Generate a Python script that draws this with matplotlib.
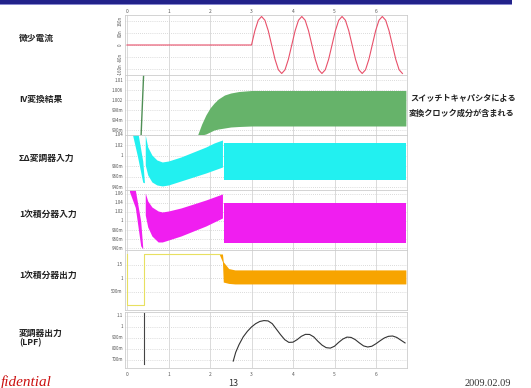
import matplotlib as mpl
mpl.use('agg')
import matplotlib.pyplot as plt
from matplotlib.patches import Rectangle

plt.rcParams['font.family'] = ['Noto Sans CJK JP', 'DejaVu Sans']

# row names (left column)
row_names = ['微少電流', 'IV変換結果', 'ΣΔ変調器入力', '1次積分器入力', '1次積分器出力', '変調器出力\n(LPF)']
note_lines = ['スイッチトキャパシタによる', '変換クロック成分が含まれる']
x_ticks = [0, 1, 2, 3, 4, 5, 6]

# panel 1: small current (nA), red
cur_t = [0.0, 3.000, 3.081, 3.162, 3.243, 3.323, 3.404, 3.485, 3.566, 3.647, 3.728, 3.808, 3.889,
         3.970, 4.051, 4.132, 4.212, 4.293, 4.374, 4.455, 4.536, 4.617, 4.697, 4.778, 4.859,
         4.940, 5.021, 5.102, 5.182, 5.263, 5.344, 5.425, 5.506, 5.587, 5.667, 5.748, 5.829,
         5.910, 5.991, 6.072, 6.152, 6.233, 6.314, 6.395, 6.476, 6.557, 6.637]
cur_v = [0, 0, 95, 165, 190, 165, 95, 0, -95, -165, -190, -165, -95,
         0, 95, 165, 190, 165, 95, 0, -95, -165, -190, -165, -95,
         0, 95, 165, 190, 165, 95, 0, -95, -165, -190, -165, -95,
         0, 95, 165, 190, 165, 95, 0, -95, -165, -190]

# panel 2: IV conversion, green
iv_spike_t = [0.40, 0.34]
iv_spike_v = [1.012, 0.988]
iv_t = [1.70, 1.80, 1.90, 2.00, 2.10, 2.20, 2.35, 2.50, 2.70, 3.00, 6.72]
iv_hi = [0.988, 0.9924, 0.996, 0.9988, 1.0008, 1.0024, 1.004, 1.0048, 1.0054, 1.0058, 1.0058]
iv_lo = [0.988, 0.988, 0.9884, 0.9892, 0.99, 0.9904, 0.9908, 0.9912, 0.9914, 0.9916, 0.9916]

# panel 3: sigma-delta input, cyan
sd_spike_t = [0.12, 0.25, 0.38, 0.42]
sd_spike_hi = [1.05, 1.05, 0.99, 0.95]
sd_spike_lo = [1.045, 1.0, 0.95, 0.949]
sd_t = [0.44, 0.50, 0.60, 0.72, 0.85, 1.00, 1.30, 1.60, 1.90, 2.10, 2.30]
sd_hi = [1.04, 1.0171, 1.0019, 0.9924, 0.9886, 0.9905, 0.9981, 1.0076, 1.0171, 1.0248, 1.0305]
sd_lo = [0.9829, 0.9638, 0.9505, 0.9448, 0.9429, 0.9448, 0.9524, 0.96, 0.9676, 0.9733, 0.979]
sd_ss_t = [2.33, 6.72]
sd_ss_hi = [1.0248, 1.0248]
sd_ss_lo = [0.9543, 0.9543]

# panel 4: 1st integrator input, magenta
i1_spike_t = [0.06, 0.20, 0.33, 0.38]
i1_spike_hi = [1.069, 1.069, 1.0, 0.94]
i1_spike_lo = [1.065, 1.03, 0.945, 0.938]
i1_t = [0.44, 0.50, 0.60, 0.75, 0.85, 1.00, 1.30, 1.60, 1.90, 2.10, 2.30]
i1_hi = [1.0622, 1.0444, 1.0311, 1.0222, 1.02, 1.0222, 1.0289, 1.0377, 1.0466, 1.0533, 1.06]
i1_lo = [1.0133, 0.9867, 0.9667, 0.9534, 0.9534, 0.9578, 0.9667, 0.9778, 0.9889, 0.9978, 1.0067]
i1_ss_t = [2.33, 6.72]
i1_ss_hi = [1.04, 1.04]
i1_ss_lo = [0.9511, 0.9511]

# panel 5: 1st integrator output, yellow start + orange band
o1_line_t = [0.0, 0.0, 0.41, 0.41, 2.25]
o1_line_v = [1.89, 0.0, 0.0, 1.89, 1.89]
o1_t = [2.22, 2.30, 2.32, 2.45, 2.60, 6.72]
o1_hi = [1.89, 1.89, 1.60, 1.35, 1.30, 1.30]
o1_lo = [1.89, 1.60, 0.85, 0.80, 0.78, 0.78]

# panel 6: modulator output (LPF), black
lpf_spike_t = [0.41, 0.41]
lpf_spike_v = [1.13, 0.66]
lpf_t = [2.56, 2.62, 2.70, 2.80, 2.90, 3.00, 3.10, 3.20, 3.30, 3.40, 3.50, 3.60, 3.70, 3.80,
         3.90, 4.00, 4.10, 4.20, 4.30, 4.40, 4.50, 4.60, 4.70, 4.80, 4.90, 5.00, 5.10, 5.20,
         5.30, 5.40, 5.50, 5.60, 5.70, 5.80, 5.90, 6.00, 6.10, 6.20, 6.30, 6.40, 6.50, 6.60, 6.70]
lpf_v = [0.69, 0.77, 0.84, 0.91, 0.96, 1.00, 1.03, 1.05, 1.058, 1.055, 1.03, 0.98, 0.93, 0.885,
         0.86, 0.862, 0.885, 0.915, 0.933, 0.932, 0.91, 0.87, 0.835, 0.812, 0.808, 0.825, 0.86, 0.89,
         0.908, 0.905, 0.885, 0.855, 0.828, 0.818, 0.825, 0.848, 0.875, 0.90, 0.915, 0.918, 0.905, 0.88, 0.855]

# y axes of the panels
p1_ticks = [-160, -80, 0, 80, 160]
p1_labels = ['-160n', '-80n', '0', '80n', '160n']
p2_ticks = [0.990, 0.994, 0.998, 1.002, 1.006, 1.010]
p2_labels = ['990m', '994m', '998m', '1.002', '1.006', '1.01']
p3_ticks = [0.94, 0.96, 0.98, 1.0, 1.02, 1.04]
p3_labels = ['940m', '960m', '980m', '1', '1.02', '1.04']
p4_ticks = [0.94, 0.96, 0.98, 1.0, 1.02, 1.04, 1.06]
p4_labels = ['940m', '960m', '980m', '1', '1.02', '1.04', '1.06']
p5_ticks = [0.5, 1.0, 1.5]
p5_labels = ['500m', '1', '1.5']
p6_ticks = [0.7, 0.8, 0.9, 1.0, 1.1]
p6_labels = ['700m', '800m', '900m', '1', '1.1']

W, H = 531, 388
fig = plt.figure(figsize=(W / 100, H / 100), dpi=100)
fig.patch.set_facecolor('white')

# slide title bar
fig.add_artist(Rectangle((0, 1 - 4 / H), 512 / W, 4 / H, transform=fig.transFigure,
                         color='#22228a', lw=0))
fig.add_artist(Rectangle((0, 1 - 5 / H), 512 / W, 1 / H, transform=fig.transFigure,
                         color='#8a8ad0', lw=0))

left, right = 125, 407
x0 = (left - 127) / 41.5
x1 = (right - 127) / 41.5


def panel(top, bottom, ylim, ticks, labels, rot=0):
    ax = fig.add_axes([left / W, 1 - bottom / H, (right - left) / W, (bottom - top) / H])
    ax.set_xlim(x0, x1)
    ax.set_ylim(*ylim)
    ax.set_xticks(x_ticks)
    ax.set_yticks(ticks)
    ax.set_yticklabels(labels, rotation=rot, va='center')
    ax.tick_params(axis='y', length=0, pad=1.5, labelsize=3.2, labelcolor='#555555')
    ax.tick_params(axis='x', length=0, labelbottom=False)
    for y in ticks:
        ax.axhline(y, color='#bbbbbb', lw=0.5, ls=(0, (1, 2)), zorder=0)
    for x in x_ticks:
        ax.axvline(x, color='#d4d4d4', lw=0.6, zorder=0)
    for s in ax.spines.values():
        s.set_color('#cccccc')
        s.set_linewidth(0.6)
    return ax


ax1 = panel(15, 75, (-200, 200), p1_ticks, p1_labels, rot=90)
ax1.plot(cur_t, cur_v, color='#e8506a', lw=0.8)
ax1.tick_params(axis='x', labeltop=True, labelsize=3.5, labelcolor='#555555', pad=1)

ax2 = panel(75, 135, (0.988, 1.012), p2_ticks, p2_labels)
ax2.plot(iv_spike_t, iv_spike_v, color='#4f8f55', lw=1.0)
ax2.fill_between(iv_t, iv_lo, iv_hi, color='#66b36a', lw=0)

ax3 = panel(135, 190, (0.9352, 1.04), p3_ticks, p3_labels)
ax3.fill_between(sd_spike_t, sd_spike_lo, sd_spike_hi, color='#22f0f0', lw=0)
ax3.fill_between(sd_t, sd_lo, sd_hi, color='#22f0f0', lw=0)
ax3.fill_between(sd_ss_t, sd_ss_lo, sd_ss_hi, color='#22f0f0', lw=0)

ax4 = panel(190, 250, (0.9356, 1.0688), p4_ticks, p4_labels)
ax4.fill_between(i1_spike_t, i1_spike_lo, i1_spike_hi, color='#f01ef0', lw=0)
ax4.fill_between(i1_t, i1_lo, i1_hi, color='#f01ef0', lw=0)
ax4.fill_between(i1_ss_t, i1_ss_lo, i1_ss_hi, color='#f01ef0', lw=0)

ax5 = panel(250, 310, (-0.185, 2.037), p5_ticks, p5_labels)
ax5.plot(o1_line_t, o1_line_v, color='#e8e060', lw=0.8)
ax5.fill_between(o1_t, o1_lo, o1_hi, color='#f7a400', lw=0)

ax6 = panel(312, 368, (0.6273, 1.136), p6_ticks, p6_labels)
ax6.plot(lpf_spike_t, lpf_spike_v, color='#444444', lw=0.8)
ax6.plot(lpf_t, lpf_v, color='#333333', lw=0.8)
ax6.tick_params(axis='x', labelbottom=True, labelsize=3.5, labelcolor='#555555', pad=3)


def ftext(x, y, s, **kw):
    fig.text(x / W, 1 - y / H, s, **kw)


row_y = [38, 99, 158, 214, 275, 338]
for name, y in zip(row_names, row_y):
    ftext(19, y, name, fontsize=6.3, fontweight='bold', color='#222222', va='center',
          linespacing=1.1)

ftext(410, 99, note_lines[0], fontsize=5.9, fontweight='bold', color='#222222', va='center')
ftext(409, 113, note_lines[1], fontsize=5.9, fontweight='bold', color='#222222', va='center')

# footer: the slide's "Confidential" mark is cut at the left edge
ftext(1, 382, 'fidential', fontsize=11, color='#cc1111', style='italic',
      family=['Liberation Serif', 'DejaVu Serif'], ha='left', va='center')
ftext(233, 384, '13', fontsize=6.5, color='#333333', ha='center', va='center')
ftext(488, 383, '2009.02.09', fontsize=7.5, color='#333333', ha='center', va='center',
      family=['Liberation Serif', 'DejaVu Serif'])

fig.savefig('out.png', dpi=100)
